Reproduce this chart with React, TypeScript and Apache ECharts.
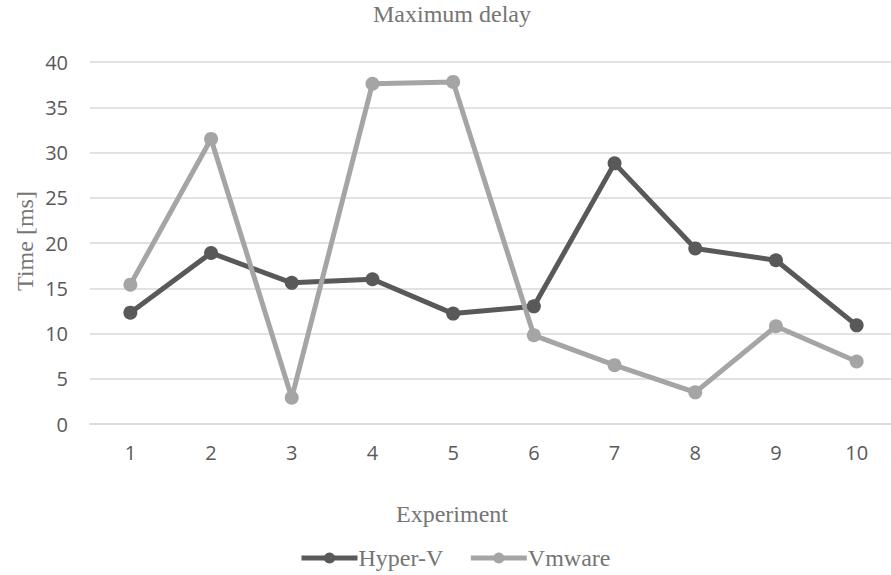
import React, { useEffect, useRef } from "react";
import * as echarts from "echarts";

const categories = ["1", "2", "3", "4", "5", "6", "7", "8", "9", "10"];
const hyperV = [12.3, 18.9, 15.6, 16.0, 12.2, 13.0, 28.8, 19.4, 18.1, 10.9];
const vmware = [15.4, 31.5, 2.9, 37.6, 37.8, 9.8, 6.5, 3.5, 10.8, 6.9];

export default function App() {
  const ref = useRef<HTMLDivElement>(null);
  useEffect(() => {
    const chart = echarts.init(ref.current!, null, { renderer: "svg" });
    const serif = "'Liberation Serif', 'Times New Roman', serif";
    const sans = "'Open Sans', 'Noto Sans', sans-serif";
    chart.setOption({
      animation: false,
      backgroundColor: "#ffffff",
      grid: { left: 90, top: 62, width: 807, height: 362 },
      legend: {
        left: 294,
        top: 541,
        itemWidth: 56,
        itemHeight: 14,
        itemGap: 25,
        lineStyle: { width: 5 },
        textStyle: { fontFamily: serif, fontSize: 24, color: "#757575", padding: [0, 0, 0, -4] },
        data: ["Hyper-V", "Vmware"],
      },
      xAxis: {
        type: "category",
        data: categories,
        boundaryGap: true,
        axisLine: { show: true, lineStyle: { color: "#d9d9d9", width: 1.5 } },
        axisTick: { show: false },
        axisLabel: { fontFamily: sans, fontSize: 20, color: "#595959", margin: 18 },
      },
      yAxis: {
        type: "value",
        min: 0,
        max: 40,
        interval: 5,
        axisLine: { show: false },
        axisTick: { show: false },
        axisLabel: { fontFamily: sans, fontSize: 20, color: "#595959", margin: 22 },
        splitLine: { lineStyle: { color: "#d9d9d9", width: 1.5 } },
      },
      graphic: [
        {
          type: "text",
          x: 452,
          y: 14,
          style: {
            text: "Maximum delay",
            fontFamily: serif,
            fontSize: 24,
            fill: "#757575",
            align: "center",
            verticalAlign: "middle",
          },
        },
        {
          type: "text",
          x: 25,
          y: 241,
          rotation: Math.PI / 2,
          style: {
            text: "Time [ms]",
            fontFamily: serif,
            fontSize: 24,
            fill: "#757575",
            align: "center",
            verticalAlign: "middle",
          },
        },
        {
          type: "text",
          x: 452,
          y: 514,
          style: {
            text: "Experiment",
            fontFamily: serif,
            fontSize: 24,
            fill: "#757575",
            align: "center",
            verticalAlign: "middle",
          },
        },
      ],
      series: [
        {
          name: "Hyper-V",
          type: "line",
          data: hyperV,
          color: "#595959",
          symbol: "circle",
          symbolSize: 14,
          lineStyle: { width: 5, color: "#595959" },
          itemStyle: { color: "#595959" },
        },
        {
          name: "Vmware",
          type: "line",
          data: vmware,
          color: "#a5a5a5",
          symbol: "circle",
          symbolSize: 14,
          lineStyle: { width: 5, color: "#a5a5a5" },
          itemStyle: { color: "#a5a5a5" },
        },
      ],
    });
    return () => chart.dispose();
  }, []);
  return (
    <div style={{ width: 891, height: 575, position: "absolute", left: 0, top: 0, overflow: "hidden" }}>
      <div ref={ref} style={{ width: 910, height: 575 }} />
    </div>
  );
}
